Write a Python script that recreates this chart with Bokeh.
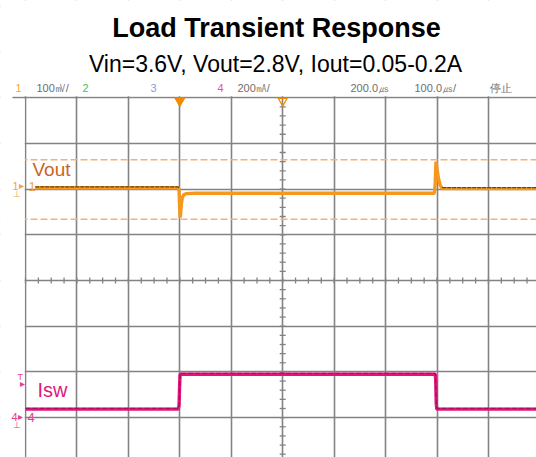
import numpy as np
from bokeh.plotting import figure
from bokeh.models import Label, SingleIntervalTicker, Span, BoxAnnotation
from bokeh.embed import file_html
from bokeh.resources import INLINE

# ---------------- data ----------------
title_text = "Load Transient Response"
subtitle_text = "Vin=3.6V, Vout=2.8V, Iout=0.05-0.2A"

# channel 1: Vout (AC coupled), time in microseconds, deviation in mV
vout_t_us = [19, 296, 298.5, 299.5, 300.5, 301.5, 303, 305, 308, 313, 330,
             795, 796.5, 798, 800, 803, 806, 810, 993]
vout_mv = [-1, -1, -4, -40, -66, -58, -36, -22, -16, -14, -13,
           -13, 10, 56, 40, 18, 5, -3, -3]

# channel 4: Isw current in mA
isw_t_us = [0, 297, 298.5, 299.5, 300.5, 796.5, 797.5, 798.5, 799.5, 993]
isw_ma = [35, 35, 50, 130, 188, 188, 160, 60, 35, 35]

cursor_mv = [60, -70]          # dashed cursor lines on channel 1
trigger_time_us = 300
hpos_time_us = 500

ch1_mv_per_div = 100
ch4_ma_per_div = 200
time_us_per_div = 100

header_texts = ["1", "100㎷/", "2", "3", "4", "200㎃/", "200.0㎲", "100.0㎲/", "停止"]

# ---------------- styling / layout ----------------
CH1_OFF = 2.04     # divisions
CH4_OFF = -2.99
GRID = "#838383"
ORANGE = "#f5981d"
PINK = "#e2147c"
FONT = "Liberation Sans"

W, H = 536, 457
X0, PXU = 25.0, 0.5144         # page x of t=0, px per microsecond
Y0, PXD = 280.0, 45.71         # page y of 0 div, px per division

p = figure(width=W, height=H,
           x_range=(-X0 / PXU, (W - X0) / PXU),
           y_range=(-(H - Y0) / PXD, Y0 / PXD),
           output_backend="svg", toolbar_location=None,
           x_axis_location=None, y_axis_location=None, title_location=None,
           min_border=0, outline_line_color=None,
           background_fill_color="white", border_fill_color="white")

p.xgrid.ticker = SingleIntervalTicker(interval=time_us_per_div)
p.ygrid.ticker = SingleIntervalTicker(interval=1)
p.grid.grid_line_color = GRID
p.grid.grid_line_width = 1.6

# cursors (drawn before the blanking boxes so they start at the graticule)
for c in cursor_mv:
    p.add_layout(Span(location=CH1_OFF + c / ch1_mv_per_div, dimension="width",
                      line_color="#f3b27c", line_dash="7 3", line_width=1.5,
                      level="underlay"))

# blank out grid outside the graticule (header area and left margin)
p.add_layout(BoxAnnotation(bottom=4.03, fill_color="white", fill_alpha=1,
                           line_color=None, level="underlay"))
p.add_layout(BoxAnnotation(right=-1.5, top=3.97, fill_color="white", fill_alpha=1,
                           line_color=None, level="underlay"))
p.add_layout(BoxAnnotation(right=-25.3, fill_color="white", fill_alpha=1,
                           line_color=None, level="underlay"))


def add_text(txt, page_x, page_base, size, color, bold=False, align="left"):
    # baseline correction for the svg text placement
    y = H - page_base + 0.38 * size
    p.add_layout(Label(x=page_x, y=y, x_units="screen", y_units="screen",
                       text=txt, text_align=align, text_baseline="alphabetic",
                       text_font=FONT, text_font_style="bold" if bold else "normal",
                       text_font_size=f"{size}px", text_color=color))


# centre cross minor ticks
xt = np.arange(0, 1000, time_us_per_div / 4)
p.scatter(x=xt, y=np.zeros_like(xt), marker="dash", size=6, angle=np.pi / 2,
          line_color=GRID, line_width=1.3)
yt = np.arange(-3.8, 4.0, 0.2)
p.scatter(x=np.full_like(yt, hpos_time_us), y=yt, marker="dash", size=6,
          line_color=GRID, line_width=1.3)

# Vout trace
vt = np.array(vout_t_us, dtype=float)
vv = CH1_OFF + np.array(vout_mv, dtype=float) / ch1_mv_per_div
p.line(vt, vv, line_color=ORANGE, line_width=3.4)
near = np.where(np.abs(np.array(vout_mv)) <= 4, vv, np.nan)
p.line(vt, near + 0.02, line_color="#4a3510", line_width=1.3, line_dash="4 1",
       line_alpha=0.85)

# Isw trace
it = np.array(isw_t_us, dtype=float)
iv = CH4_OFF + np.array(isw_ma, dtype=float) / ch4_ma_per_div
p.line(it, iv, line_color=PINK, line_width=3.4)
p.line(it, iv + 0.02, line_color="#5a0a30", line_width=1.0, line_dash="5 2",
       line_alpha=0.55)

# trigger / position markers
p.scatter(x=[trigger_time_us], y=[3.93], marker="inverted_triangle", size=10,
          fill_color="#f08a00", line_color="#f08a00")
p.scatter(x=[hpos_time_us], y=[3.93], marker="inverted_triangle", size=9,
          fill_color=None, line_color="#f08a00", line_width=1.3)

# titles
add_text(title_text, 276, 38, 27, "black", bold=True, align="center")
add_text(subtitle_text, 275, 72.5, 23, "black", align="center")

# header row of the scope
header_x = [15, 36, 82, 150, 217, 237, 350, 414, 489]
header_col = ["#f4a64a", "#6e6e6e", "#5cb84a", "#8b9ad8", "#e8559a",
              "#6e6e6e", "#6e6e6e", "#6e6e6e", "#6e6e6e"]
for t, hx, hc in zip(header_texts, header_x, header_col):
    add_text(t, hx, 92, 11, hc)

# channel names
add_text("Vout", 32, 176, 19, "#c8661f")
add_text("Isw", 37, 397, 20, "#e0177e")

C1 = "#f2a24a"
C4 = "#e8408c"
add_text("1", 12, 189.5, 11, C1)
add_text("▸", 18, 189, 10, C1)
add_text("⊥", 12.5, 197, 9, C1)
add_text("1", 28, 191, 13, C1)

add_text("T", 17, 380, 9, C4)
add_text("▸", 19, 387, 10, C4)
add_text("4", 11, 420.5, 11, C4)
add_text("▸", 17, 420, 10, C4)
add_text("⊥", 12.5, 428, 9, C4)
add_text("4", 27, 421.5, 13, C4)

open("out.html", "w").write(file_html(p, INLINE))
